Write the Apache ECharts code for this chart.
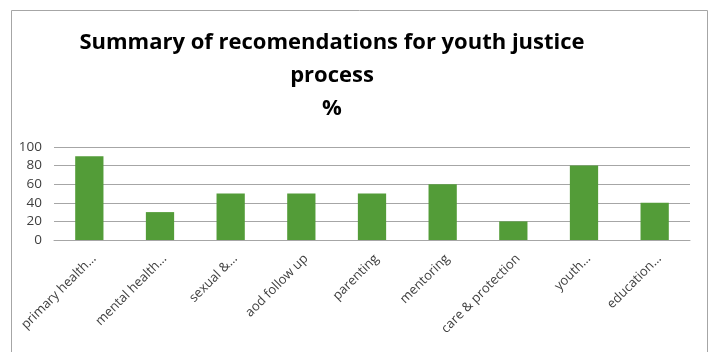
<!DOCTYPE html>
<html>
<head>
<meta charset="utf-8">
<script src="https://cdn.jsdelivr.net/npm/echarts@6/dist/echarts.min.js"></script>
<style>
  html, body { margin: 0; padding: 0; background: #fff; }
  #chart { width: 709px; height: 352px; }
</style>
</head>
<body>
<div id="chart"></div>
<script>
const categories = [
  "primary health…",
  "mental health…",
  "sexual &…",
  "aod follow up",
  "parenting",
  "mentoring",
  "care & protection",
  "youth…",
  "education…",
];
const values = [90, 30, 50, 50, 50, 60, 20, 80, 40];
const titleText = "Summary of recomendations for youth justice\nprocess\n%";

const myChart = echarts.init(document.getElementById("chart"));

myChart.setOption({
  animation: false,
  title: {
    text: titleText,
    left: 327,
    textAlign: "center",
    top: 21,
    textStyle: {
      fontFamily: "Open Sans",
      fontWeight: "bold",
      fontSize: 22,
      lineHeight: 33,
      color: "#000",
    },
  },
  graphic: [
    {
      type: "rect",
      left: 9,
      top: 8,
      shape: { width: 696, height: 360 },
      style: { fill: "none", stroke: "#a6a6a6", lineWidth: 1 },
      silent: true,
    },
  ],
  grid: {
    left: 54,
    right: 19,
    top: 147,
    bottom: 112,
  },
  xAxis: {
    type: "category",
    data: categories,
    axisTick: { show: false },
    axisLine: { lineStyle: { color: "#a6a6a6" } },
    axisLabel: {
      rotate: 45,
      interval: 0,
      verticalAlign: "top",
      fontFamily: "Open Sans",
      fontSize: 13,
      color: "#404040",
      margin: 12,
    },
  },
  yAxis: {
    type: "value",
    min: 0,
    max: 100,
    interval: 20,
    axisLine: { show: false },
    axisTick: { show: false },
    splitLine: { lineStyle: { color: "#a6a6a6" } },
    axisLabel: {
      fontFamily: "Open Sans",
      fontSize: 13.5,
      color: "#404040",
      margin: 12,
    },
  },
  series: [
    {
      type: "bar",
      data: values,
      barWidth: "40%",
      itemStyle: { color: "#539c38" },
    },
  ],
});
</script>
</body>
</html>
